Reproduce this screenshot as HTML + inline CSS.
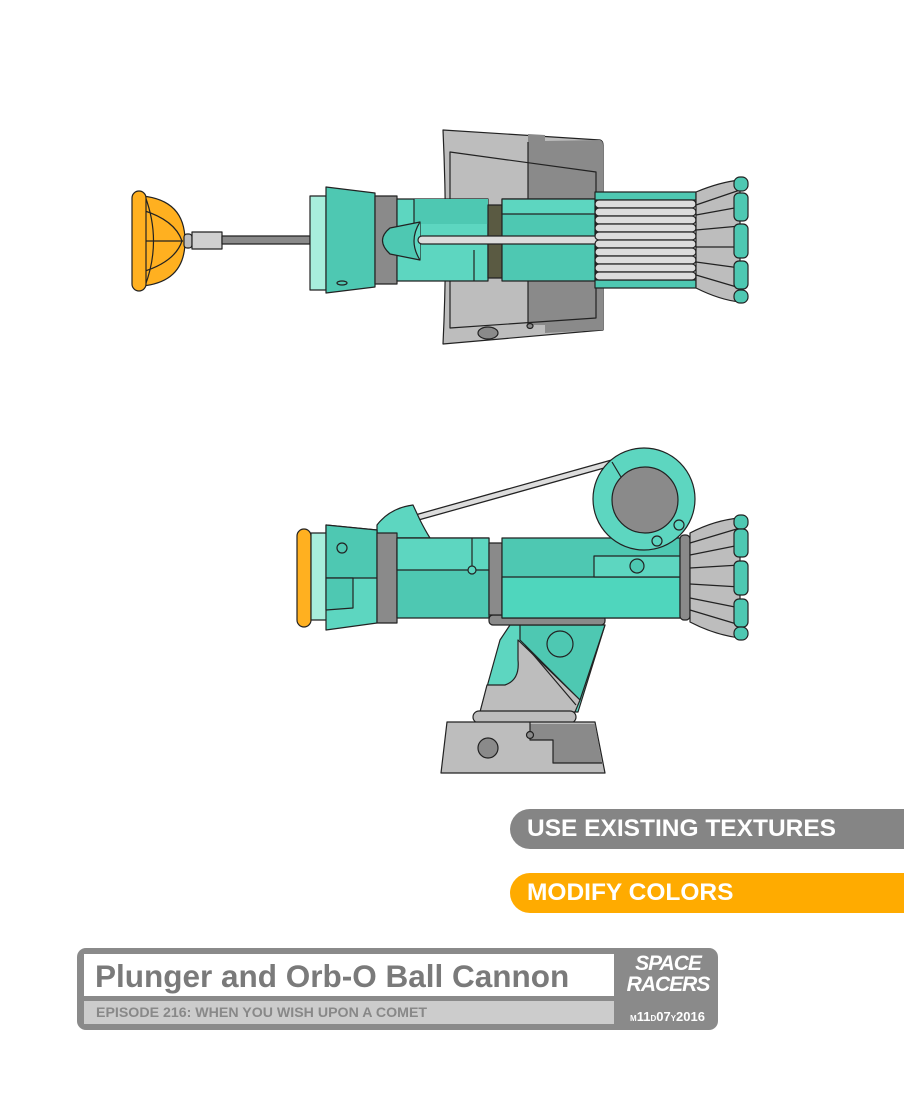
<!DOCTYPE html>
<html><head><meta charset="utf-8"><style>
html,body{margin:0;padding:0;background:#fff;}
body{width:904px;height:1106px;position:relative;overflow:hidden;font-family:"Liberation Sans",sans-serif;}
svg{position:absolute;left:0;top:0;}
.bar{position:absolute;left:510px;width:394px;height:40px;border-radius:20px 0 0 20px;color:#fff;font-weight:bold;font-size:24.5px;line-height:40px;padding-left:17px;box-sizing:border-box;}
</style></head><body>
<svg width="904" height="1106" viewBox="0 0 904 1106" stroke="#222" stroke-width="1.2" stroke-linejoin="round">
<!-- ===== TOP CANNON ===== -->
<path d="M443,130 L600,140 Q603,141 603,145 L603,330 L443,344 Q448,240 443,130 Z" fill="#bdbdbd"/>
<path d="M528,134 L545,135 L545,141 L600,140 Q603,141 603,145 L603,330 L545,333 L545,325 L528,325 Z" fill="#8a8a8a" stroke="none"/>
<path d="M450,152 L596,172 L596,318 L450,328 Z" fill="none"/>
<line x1="528" y1="142" x2="528" y2="324"/>
<ellipse cx="488" cy="333" rx="10" ry="6" fill="#8a8a8a"/>
<ellipse cx="530" cy="326" rx="3" ry="2.5" fill="#8a8a8a"/>
<path d="M142,196 Q185,200 185,241 Q185,282 142,286 Z" fill="#ffb020"/>
<path d="M142,210 Q175,220 182,241 M142,272 Q175,262 182,241 M145,196 Q162,241 145,286 M142,241 L183,241" fill="none"/>
<rect x="132" y="191" width="14" height="100" rx="7" fill="#ffb020"/>
<rect x="184" y="234" width="8" height="14" rx="3" fill="#bdbdbd"/>
<rect x="192" y="232" width="30" height="17" fill="#d0d0d0"/>
<rect x="222" y="236" width="88" height="8" fill="#8a8a8a"/>
<rect x="310" y="196" width="16" height="94" fill="#a8eedc"/>
<path d="M326,187 L375,193 L375,287 L326,293 Z" fill="#4ec8b2"/>
<ellipse cx="342" cy="283" rx="5" ry="2" fill="#4ec8b2"/>
<rect x="375" y="196" width="22" height="88" fill="#8a8a8a"/>
<rect x="397" y="199" width="91" height="82" fill="#5dd6c0"/>
<rect x="414" y="199" width="74" height="25" fill="#4ec8b2" stroke="none"/>
<line x1="414" y1="199" x2="414" y2="224"/>
<line x1="474" y1="250" x2="474" y2="281"/>
<rect x="488" y="205" width="14" height="73" fill="#5a5a42"/>
<rect x="502" y="199" width="93" height="82" fill="#4ec8b2"/>
<rect x="502" y="199" width="93" height="15" fill="#5dd6c0"/>
<path d="M420,222 L390,228 Q375,240 390,254 L420,260 Z" fill="#4ec8b2"/>
<path d="M420,222 Q408,241 420,260" fill="#5dd6c0"/>
<rect x="418" y="236" width="182" height="8" rx="4" fill="#dcdcdc"/>
<rect x="595" y="192" width="101" height="8" fill="#4ec8b2"/>
<rect x="595" y="280" width="101" height="8" fill="#4ec8b2"/>
<g fill="#dcdcdc">
<rect x="595" y="200" width="101" height="8" rx="4"/><rect x="595" y="208" width="101" height="8" rx="4"/>
<rect x="595" y="216" width="101" height="8" rx="4"/><rect x="595" y="224" width="101" height="8" rx="4"/>
<rect x="595" y="232" width="101" height="8" rx="4"/><rect x="595" y="240" width="101" height="8" rx="4"/>
<rect x="595" y="248" width="101" height="8" rx="4"/><rect x="595" y="256" width="101" height="8" rx="4"/>
<rect x="595" y="264" width="101" height="8" rx="4"/><rect x="595" y="272" width="101" height="8" rx="4"/>
</g>
<path d="M696,192 Q720,182 740,180 L740,302 Q720,300 696,288 Z" fill="#bdbdbd"/>
<path d="M696,205 L740,190 M696,215 L740,207 M696,230 L740,226 M696,247 L740,247 M696,262 L740,268 M696,275 L740,288" fill="none"/>
<g fill="#4ec8b2"><rect x="734" y="177" width="14" height="14" rx="6"/><rect x="734" y="193" width="14" height="28" rx="5"/><rect x="734" y="224" width="14" height="34" rx="5"/><rect x="734" y="261" width="14" height="28" rx="5"/><rect x="734" y="290" width="14" height="13" rx="6"/></g>
<!-- ===== BOTTOM CANNON ===== -->
<path d="M510,625 L605,625 L578,712 L480,712 L500,640 Z" fill="#5dd6c0"/>
<path d="M520,625 L605,625 L580,700 L520,640 Z" fill="#4ec8b2"/>
<path d="M518,640 L580,700 L575,712 L480,712 L487,685 L505,685 Q520,680 518,660 Z" fill="#bdbdbd"/>
<line x1="525" y1="645" x2="576" y2="705"/>
<circle cx="560" cy="644" r="13" fill="#4ec8b2"/>
<rect x="489" y="615" width="116" height="10" rx="4" fill="#8a8a8a"/>
<rect x="473" y="711" width="103" height="12" rx="6" fill="#bdbdbd"/>
<path d="M447,722 L595,722 L605,773 L441,773 Z" fill="#bdbdbd"/>
<path d="M530,724 L595,724 L602,763 L553,763 L553,740 L530,740 Z" fill="#8a8a8a" stroke="none"/>
<path d="M530,722 L530,740 L553,740 L553,763 L602,763" fill="none"/>
<circle cx="530" cy="735" r="3.5" fill="#8a8a8a"/>
<circle cx="488" cy="748" r="10" fill="#8a8a8a"/>
<line x1="415" y1="518" x2="615" y2="462" stroke="#222" stroke-width="7"/>
<line x1="415" y1="518" x2="615" y2="462" stroke="#dcdcdc" stroke-width="4.5"/>
<path d="M377,525 Q390,508 413,505 L420,520 Q425,530 430,538 L377,538 Z" fill="#5dd6c0"/>
<rect x="297" y="529" width="14" height="98" rx="7" fill="#ffb020"/>
<rect x="311" y="533" width="16" height="87" fill="#a8eedc"/>
<path d="M326,525 L377,530 L377,623 L326,630 Z" fill="#5dd6c0"/>
<path d="M326,525 L377,530 L377,578 L326,578 Z" fill="#4ec8b2"/>
<path d="M326,578 L353,578 L353,608 L326,610 Z" fill="#4ec8b2"/>
<circle cx="342" cy="548" r="5" fill="#4ec8b2"/>
<rect x="377" y="533" width="20" height="90" fill="#8a8a8a"/>
<rect x="397" y="538" width="92" height="80" fill="#4ec8b2"/>
<rect x="397" y="538" width="92" height="32" fill="#5dd6c0"/>
<path d="M472,538 L472,569" fill="none"/>
<circle cx="472" cy="570" r="4" fill="#5dd6c0"/>
<rect x="489" y="543" width="13" height="72" fill="#8a8a8a"/>
<rect x="502" y="538" width="178" height="80" fill="#4ec8b2"/>
<rect x="502" y="577" width="178" height="41" fill="#4fd6bd"/>
<rect x="594" y="556" width="86" height="21" fill="#5dd6c0"/>
<circle cx="637" cy="566" r="7" fill="#4ec8b2"/>
<rect x="680" y="535" width="10" height="85" rx="4" fill="#8a8a8a"/>
<path d="M690,533 Q715,520 740,518 L740,638 Q715,635 690,622 Z" fill="#bdbdbd"/>
<path d="M690,543 L740,528 M690,555 L740,545 M690,568 L740,565 M690,584 L740,587 M690,598 L740,608 M690,610 L740,625" fill="none"/>
<g fill="#4ec8b2"><rect x="734" y="515" width="14" height="14" rx="6"/><rect x="734" y="529" width="14" height="28" rx="5"/><rect x="734" y="561" width="14" height="34" rx="5"/><rect x="734" y="599" width="14" height="28" rx="5"/><rect x="734" y="627" width="14" height="13" rx="6"/></g>
<circle cx="644" cy="499" r="51" fill="#5dd6c0"/>
<circle cx="645" cy="500" r="33" fill="#8a8a8a"/>
<line x1="612" y1="462" x2="621" y2="477"/>
<circle cx="679" cy="525" r="5" fill="#5dd6c0"/>
<circle cx="657" cy="541" r="5" fill="#5dd6c0"/>
</svg>
<div class="bar" style="top:809px;background:#858585;">USE EXISTING TEXTURES</div>
<div class="bar" style="top:873px;background:#ffab00;">MODIFY COLORS</div>
<div style="position:absolute;left:77px;top:948px;width:641px;height:82px;background:#8a8a8a;border-radius:9px;"></div>
<div style="position:absolute;left:84px;top:954px;width:530px;height:42px;background:#fff;"></div>
<div style="position:absolute;left:95px;top:956px;font-size:31.5px;font-weight:bold;color:#7a7a7a;line-height:40px;">Plunger and Orb-O Ball Cannon</div>
<div style="position:absolute;left:84px;top:1001px;width:530px;height:23px;background:#cccccc;"></div>
<div style="position:absolute;left:96px;top:1005px;font-size:13.5px;font-weight:bold;color:#888;line-height:16px;transform:scaleX(1.05);transform-origin:left;">EPISODE 216: WHEN YOU WISH UPON A COMET</div>
<div style="position:absolute;left:618px;top:953px;width:100px;font-size:21px;font-weight:bold;font-style:italic;color:#fff;line-height:21px;text-align:center;letter-spacing:-1px;">SPACE<br>RACERS</div>
<div style="position:absolute;left:620px;top:1010px;width:95px;font-size:13px;font-weight:bold;color:#fff;text-align:center;line-height:14px;"><span style="font-size:8px">M</span>11<span style="font-size:8px">D</span>07<span style="font-size:8px">Y</span>2016</div>
</body></html>
